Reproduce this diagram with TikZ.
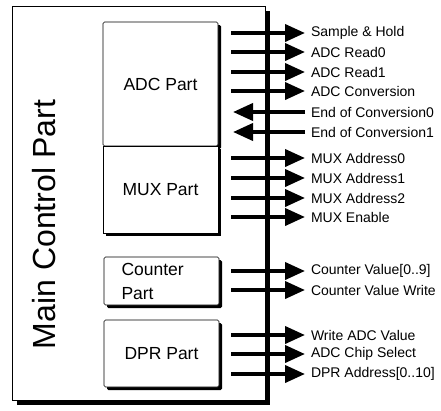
\documentclass[tikz,border=0pt]{standalone}
\usepackage{fontspec}
\setmainfont{Liberation Sans}
\usetikzlibrary{positioning,shadows,arrows.meta}

\begin{document}
\begin{tikzpicture}[
        x=1pt, y=-1pt,
        mainbox/.style={rectangle, draw=black, line width=0.6pt, fill=white, inner sep=0pt,
            drop shadow={opacity=1, fill=black, shadow xshift=5pt, shadow yshift=-5pt}},
        partbox/.style={rectangle, draw=black, line width=0.6pt, fill=white, inner sep=0pt,
            rounded corners=1.5pt, minimum width=115pt, align=center,
            font=\fontsize{17.5}{24}\selectfont,
            drop shadow={opacity=1, fill=black, shadow xshift=3pt, shadow yshift=-3pt}},
        siglabel/.style={anchor=west, inner sep=0pt, outer xsep=6pt, font=\fontsize{14}{16}\selectfont},
        sig/.style={line width=3.8pt, -{Triangle[length=20pt, width=17pt]}}
    ]

        \useasboundingbox[fill=white] (0,0) rectangle (441,410);

        % --- Main control part ---
        \node (main) [mainbox, minimum width=253pt, minimum height=394pt] at (138.5,203) {};
        \node (title) [rotate=90, anchor=base, font=\fontsize{32}{38}\selectfont] at (55,224.5) {Main Control Part};

        % --- Sub parts ---
        \node (adc) [partbox, minimum height=124pt] at (160.5,84) {ADC Part};
        \node (mux) [partbox, minimum height=87pt, rounded corners=0pt] at (160.5,189.5) {MUX Part};
        \node (counter) [partbox, minimum height=48pt, text width=80pt, align=left] at (161.5,281) {Counter\\Part};
        \node (dpr) [partbox, minimum height=67pt] at (161.5,353.5) {DPR Part};

        % --- Output signals ---
        \foreach \y/\txt [count=\i] in {33/{Sample \& Hold}, 52/{ADC Read0}, 72/{ADC Read1}, 91/{ADC Conversion},
                158/{MUX Address0}, 178/{MUX Address1}, 198/{MUX Address2}, 217/{MUX Enable},
                271/{Counter Value[0..9]}, 290/{Counter Value Write},
                335/{Write ADC Value}, 354/{ADC Chip Select}, 374/{DPR Address[0..10]}} {
            \coordinate (out\i) at (231,\y);
            \node (outlbl\i) [siglabel] at (305,\y) {\txt};
            \draw [sig] (out\i) -- (outlbl\i);
        }

        % --- Input signals ---
        \foreach \y/\txt [count=\i] in {112/{End of Conversion0}, 132/{End of Conversion1}} {
            \coordinate (in\i) at (233,\y);
            \node (inlbl\i) [siglabel] at (305,\y) {\txt};
            \draw [sig] (inlbl\i) -- (in\i);
        }

    \end{tikzpicture}
\end{document}
